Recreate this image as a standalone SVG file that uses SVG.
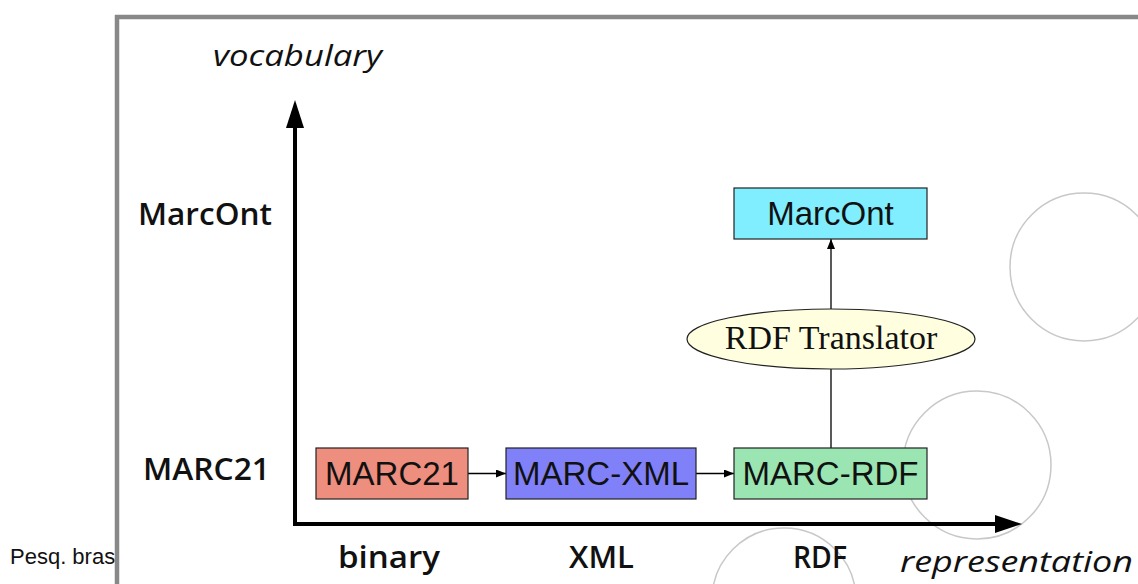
<svg xmlns="http://www.w3.org/2000/svg" width="1138" height="584" viewBox="0 0 1138 584">
<style>
.axislbl{font-family:"Open Sans","DejaVu Sans",sans-serif;font-weight:600;font-size:31px;fill:#111}
.axisit{font-family:"Open Sans","DejaVu Sans",sans-serif;font-style:italic;font-size:29px;fill:#111}
.box{stroke:#222;stroke-width:1.2}
.boxtxt{font-family:"Liberation Sans",Arial,sans-serif;font-size:33px;fill:#111;text-anchor:middle}
.circ{fill:none;stroke:#c8c8c8;stroke-width:1.5}
.conn{stroke:#000;stroke-width:1.3;fill:none}
.axis{stroke:#000;stroke-width:4;fill:none}
</style>
<defs>
<marker id="ah" markerWidth="10" markerHeight="8" refX="10" refY="4" orient="auto" markerUnits="userSpaceOnUse">
<path d="M0,0 L10,4 L0,8 Z" fill="#000"/>
</marker>
</defs>
<rect width="1138" height="584" fill="#fff"/>
<text x="10" y="564" font-family="Liberation Sans,Arial,sans-serif" font-size="22" fill="#111">Pesq. bras</text>
<rect x="117" y="17" width="1030" height="580" fill="#fff" stroke="#888" stroke-width="4.5"/>
<g id="circles">
<circle class="circ" cx="1084" cy="267" r="74"/>
<circle class="circ" cx="977" cy="465" r="74"/>
<circle class="circ" cx="784" cy="600" r="72"/>
</g>
<g id="axes">
<line class="axis" x1="295" y1="526" x2="295" y2="126"/>
<path d="M286,128 L295,100 L304,128 Z" fill="#000"/>
<line class="axis" x1="293" y1="524" x2="996" y2="524"/>
<path d="M995,515 L1022,524 L995,533 Z" fill="#000"/>
</g>
<g id="labels">
<text class="axisit" x="213" y="66" textLength="169" lengthAdjust="spacingAndGlyphs">vocabulary</text>
<text class="axislbl" x="138" y="225" textLength="134" lengthAdjust="spacingAndGlyphs">MarcOnt</text>
<text class="axislbl" x="143" y="480" textLength="127" lengthAdjust="spacingAndGlyphs">MARC21</text>
<text class="axislbl" x="338" y="568" textLength="102" lengthAdjust="spacingAndGlyphs">binary</text>
<text class="axislbl" x="569" y="568" textLength="65" lengthAdjust="spacingAndGlyphs">XML</text>
<text class="axislbl" x="793" y="568" textLength="54" lengthAdjust="spacingAndGlyphs">RDF</text>
<text class="axisit" x="900" y="572" textLength="233" lengthAdjust="spacingAndGlyphs">representation</text>
</g>
<g id="connectors">
<line class="conn" x1="468" y1="473.5" x2="506" y2="473.5" marker-end="url(#ah)"/>
<line class="conn" x1="696" y1="473.5" x2="734" y2="473.5" marker-end="url(#ah)"/>
<line class="conn" x1="831" y1="448" x2="831" y2="368"/>
<line class="conn" x1="831" y1="309" x2="831" y2="239" marker-end="url(#ah)"/>
</g>
<g id="marc21">
<rect class="box" x="316" y="448" width="152" height="51" fill="#EE8E7E"/>
<text class="boxtxt" x="392" y="485">MARC21</text>
</g>
<g id="marcxml">
<rect class="box" x="506" y="448" width="190" height="51" fill="#8080F8"/>
<text class="boxtxt" x="601" y="485">MARC-XML</text>
</g>
<g id="marcrdf">
<rect class="box" x="734" y="448" width="193" height="51" fill="#9AE5B2"/>
<text class="boxtxt" x="830.5" y="485">MARC-RDF</text>
</g>
<g id="marcont">
<rect class="box" x="734" y="188" width="193" height="51" fill="#80EEFF"/>
<text class="boxtxt" x="830.5" y="225">MarcOnt</text>
</g>
<g id="translator">
<ellipse cx="831" cy="339" rx="144" ry="30" fill="#FFFFE0" stroke="#222" stroke-width="1.2"/>
<text x="831" y="349" font-family="Liberation Serif,'Times New Roman',serif" font-size="34" fill="#111" text-anchor="middle">RDF Translator</text>
</g>
</svg>
